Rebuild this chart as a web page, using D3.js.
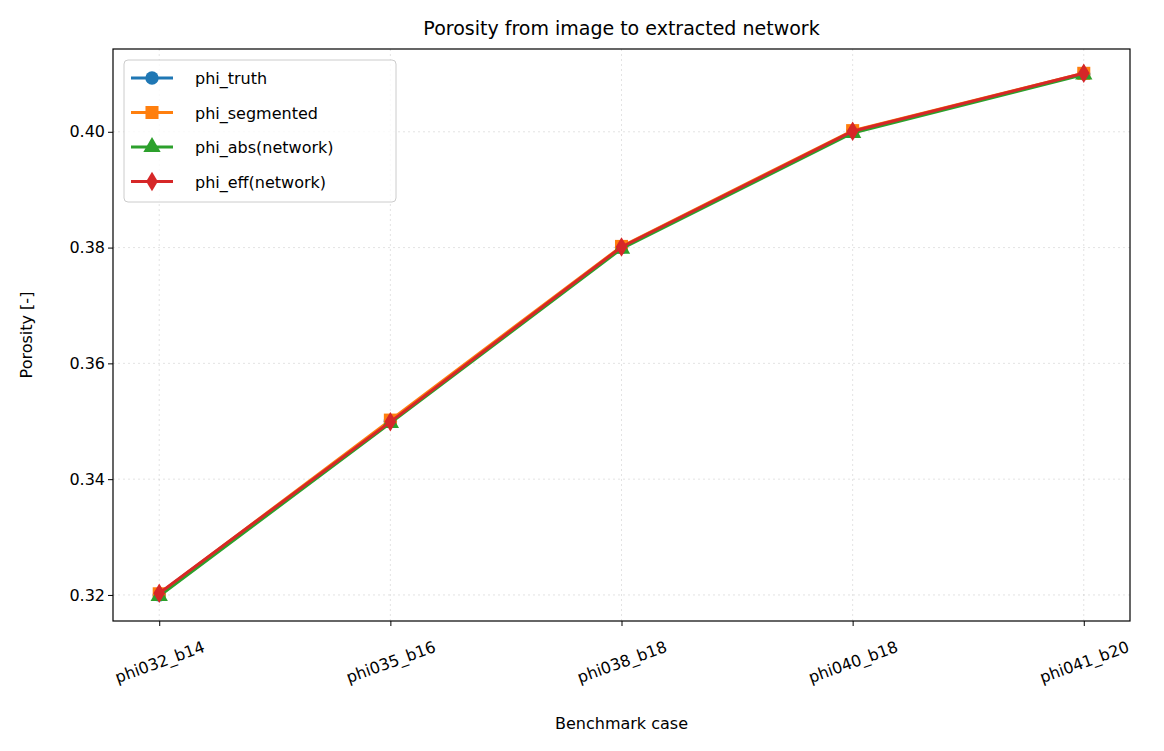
<!DOCTYPE html>
<html><head><meta charset="utf-8">
<script src="https://cdn.jsdelivr.net/npm/d3@7"></script>
<style>body{margin:0;background:#fff}text{font-family:"DejaVu Sans",sans-serif}</style>
</head><body><svg id="c" width="1164" height="751"></svg>
<script>
const cases = ["phi032_b14", "phi035_b16", "phi038_b18", "phi040_b18", "phi041_b20"];
const phiTruth = [0.32, 0.35, 0.38, 0.40, 0.41];
const phiSegmented = [0.3202, 0.3502, 0.3802, 0.4002, 0.4101];
const phiAbs = [0.3198, 0.3497, 0.3798, 0.3998, 0.4099];
const phiEff = [0.3203, 0.3499, 0.3801, 0.4001, 0.4101];
const yTicks = [0.32, 0.34, 0.36, 0.38, 0.40];

const series = [
  {name: "phi_truth", values: phiTruth, color: "#1f77b4", marker: "circle"},
  {name: "phi_segmented", values: phiSegmented, color: "#ff7f0e", marker: "square"},
  {name: "phi_abs(network)", values: phiAbs, color: "#2ca02c", marker: "triangle"},
  {name: "phi_eff(network)", values: phiEff, color: "#d62728", marker: "diamond"}
];

const svg = d3.select("#c");
const L = 113, R = 1130, T = 49, B = 621;
const x = d3.scaleLinear().domain([-0.2, 4.2]).range([L, R]);
const y = d3.scaleLinear().domain([0.3155, 0.4143]).range([B, T]);

// grid
const g = svg.append("g");
g.selectAll(".gx").data(cases).join("line")
  .attr("x1", (d, i) => x(i)).attr("x2", (d, i) => x(i)).attr("y1", T).attr("y2", B)
  .attr("stroke", "#b0b0b0").attr("stroke-opacity", 0.35).attr("stroke-dasharray", "2,3");
g.selectAll(".gy").data(yTicks).join("line")
  .attr("x1", L).attr("x2", R).attr("y1", d => y(d)).attr("y2", d => y(d))
  .attr("stroke", "#b0b0b0").attr("stroke-opacity", 0.35).attr("stroke-dasharray", "2,3");

const sym = {
  circle: d3.symbol(d3.symbolCircle, 140),
  square: d3.symbol(d3.symbolSquare, 170),
  triangle: d3.symbol(d3.symbolTriangle, 130),
  diamond: d3.symbol().type({draw(ctx, s) { const h = Math.sqrt(s) * 0.75, w = h * 0.6; ctx.moveTo(0, -h); ctx.lineTo(w, 0); ctx.lineTo(0, h); ctx.lineTo(-w, 0); ctx.closePath(); }}).size(170)
};
const line = d3.line().x((d, i) => x(i)).y(d => y(d));
series.forEach(s => {
  svg.append("path").attr("d", line(s.values)).attr("fill", "none")
    .attr("stroke", s.color).attr("stroke-width", 3);
  svg.selectAll(null).data(s.values).join("path")
    .attr("transform", (d, i) => `translate(${x(i)},${y(d)})`)
    .attr("d", sym[s.marker]()).attr("fill", s.color);
});

// axes
const ax = svg.append("g").attr("transform", `translate(0,${B})`)
  .call(d3.axisBottom(x).tickValues(d3.range(cases.length)).tickFormat(i => cases[i]).tickSize(5));
ax.selectAll("text").attr("font-size", 16).attr("fill", "#000")
  .attr("text-anchor", "middle").attr("y", 0).attr("dy", "0.35em")
  .attr("transform", "translate(0,41) rotate(-20)");
const ay = svg.append("g").attr("transform", `translate(${L},0)`)
  .call(d3.axisLeft(y).tickValues(yTicks).tickFormat(d3.format(".2f")).tickSize(5));
ay.selectAll("text").attr("font-size", 16).attr("fill", "#000");
[ax, ay].forEach(a => { a.select(".domain").remove(); a.selectAll("line").attr("stroke", "#000"); });
svg.append("rect").attr("x", L).attr("y", T).attr("width", R - L).attr("height", B - T)
  .attr("fill", "none").attr("stroke", "#000").attr("stroke-width", 1.2);

svg.append("text").attr("x", (L + R) / 2).attr("y", 35).attr("text-anchor", "middle")
  .attr("font-size", 19).text("Porosity from image to extracted network");
svg.append("text").attr("x", (L + R) / 2).attr("y", 729).attr("text-anchor", "middle")
  .attr("font-size", 16).text("Benchmark case");
svg.append("text").attr("transform", "translate(32,335) rotate(-90)").attr("text-anchor", "middle")
  .attr("font-size", 16).text("Porosity [-]");

// legend
const lg = svg.append("g").attr("transform", "translate(124,60)");
lg.append("rect").attr("width", 272).attr("height", 142).attr("rx", 4)
  .attr("fill", "#fff").attr("fill-opacity", 0.8).attr("stroke", "#ccc");
series.forEach((s, i) => {
  const yy = 18 + i * 34.5;
  lg.append("line").attr("x1", 7).attr("x2", 49).attr("y1", yy).attr("y2", yy)
    .attr("stroke", s.color).attr("stroke-width", 3);
  lg.append("path").attr("transform", `translate(28,${yy})`).attr("d", sym[s.marker]()).attr("fill", s.color);
  lg.append("text").attr("x", 43 + 28).attr("y", yy + 6).attr("font-size", 16).text(s.name);
});
</script></body></html>
